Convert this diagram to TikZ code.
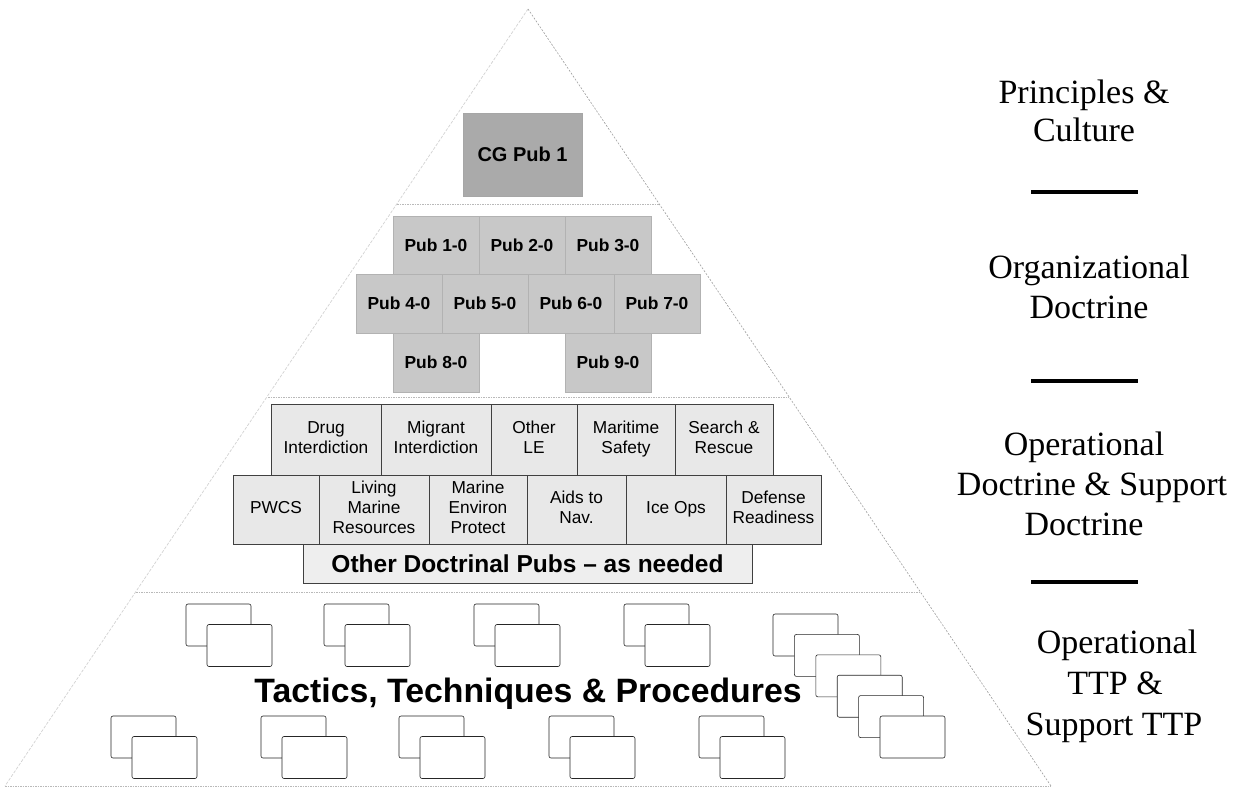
\documentclass[tikz,border=0pt]{standalone}
\usepackage{fontspec}
\setmainfont{Liberation Serif}
\newfontfamily\arialf{Liberation Sans}
\definecolor{cgfill}{RGB}{170,170,170}
\definecolor{pubfill}{RGB}{200,200,200}
\definecolor{opfill}{RGB}{232,232,232}
\definecolor{otherfill}{RGB}{238,238,238}
\newcommand\ttppair[3]{%
  \node[ttpbox] (#1a) at ({#2+32.5},{#3+21}) {};
  \node[ttpbox] (#1b) at ({#2+53.5},{#3+41.5}) {};}
\begin{document}
\begin{tikzpicture}[x=1pt,y=-1pt,
  cgbox/.style={fill=cgfill, draw=gray!70, line width=0.4pt, inner sep=0pt,
    font=\arialf\bfseries\fontsize{20}{24}\selectfont},
  pubbox/.style={fill=pubfill, draw=gray!60, line width=0.5pt, inner sep=0pt,
    minimum width=86pt, minimum height=58.5pt,
    font=\arialf\bfseries\fontsize{17.4}{20}\selectfont},
  opbox/.style={fill=opfill, draw=black!75, line width=0.7pt, inner sep=0pt, align=center,
    text depth=4pt, font=\arialf\fontsize{17.3}{20}\selectfont},
  ttpbox/.style={fill=white, draw=black!85, line width=0.6pt, rounded corners=2pt,
    minimum width=65pt, minimum height=42pt, inner sep=0pt},
  sidelabel/.style={font=\fontsize{34}{40}\selectfont, anchor=base, inner sep=0pt},
  sepline/.style={line width=4.5pt},
  divider/.style={draw=gray!55, line width=0.6pt, dash pattern=on 1.5pt off 1pt},
  edgeL/.style={draw=gray!35, line width=0.7pt, dash pattern=on 3pt off 1.5pt},
  edgeR/.style={draw=gray!75, line width=0.6pt, dash pattern=on 2pt off 1.5pt}]
\useasboundingbox (0,0) rectangle (1237,788);
% pyramid outline
\coordinate (apex) at (528,9);
\coordinate (bl) at (5,786);
\coordinate (br) at (1051,786);
\draw[edgeL] (apex) -- (bl);
\draw[edgeR] (apex) -- (br);
\draw[divider] (bl) -- (br);
% layer dividers
\draw[divider] (397,204) -- (659,204);
\draw[divider] (268,397) -- (789,397);
\draw[divider] (136,592) -- (920,592);
% principles
\node[cgbox, minimum width=119pt, minimum height=83pt] (cg) at (522.5,154.5) {CG Pub 1};
% organizational doctrine
\node[pubbox] (p1) at (436,245) {Pub 1-0};
\node[pubbox] (p2) at (522,245) {Pub 2-0};
\node[pubbox] (p3) at (608,245) {Pub 3-0};
\node[pubbox] (p4) at (399,303.5) {Pub 4-0};
\node[pubbox] (p5) at (485,303.5) {Pub 5-0};
\node[pubbox] (p6) at (571,303.5) {Pub 6-0};
\node[pubbox] (p7) at (657,303.5) {Pub 7-0};
\node[pubbox] (p8) at (436,362.5) {Pub 8-0};
\node[pubbox] (p9) at (608,362.5) {Pub 9-0};
% operational doctrine
\node[opbox, minimum width=110pt, minimum height=71pt] (drug) at (326,439.5) {Drug\\Interdiction};
\node[opbox, minimum width=110pt, minimum height=71pt] (migr) at (436,439.5) {Migrant\\Interdiction};
\node[opbox, minimum width=86pt, minimum height=71pt] (ole) at (534,439.5) {Other\\LE};
\node[opbox, minimum width=98pt, minimum height=71pt] (msaf) at (626,439.5) {Maritime\\Safety};
\node[opbox, minimum width=98pt, minimum height=71pt] (sar) at (724,439.5) {Search \&\\Rescue};
\node[opbox, minimum width=86pt, minimum height=69pt] (pwcs) at (276,509.5) {PWCS};
\node[opbox, minimum width=110pt, minimum height=69pt] (lmr) at (374,509.5) {Living\\Marine\\Resources};
\node[opbox, minimum width=98pt, minimum height=69pt] (mep) at (478,509.5) {Marine\\Environ\\Protect};
\node[opbox, minimum width=99pt, minimum height=69pt] (aton) at (576.5,509.5) {Aids to\\Nav.};
\node[opbox, minimum width=100pt, minimum height=69pt] (ice) at (676,509.5) {Ice Ops};
\node[opbox, minimum width=95pt, minimum height=69pt] (def) at (773.5,509.5) {Defense\\Readiness};
\node[opbox, fill=otherfill, minimum width=449pt, minimum height=39pt, text depth=0pt,
  font=\arialf\bfseries\fontsize{24.5}{28}\selectfont] (other) at (527.5,563.5) {Other Doctrinal Pubs \textendash{} as needed};
% TTP
\ttppair{t1}{186}{604}
\ttppair{t2}{324}{604}
\ttppair{t3}{474}{604}
\ttppair{t4}{624}{604}
\ttppair{b1}{111}{716}
\ttppair{b2}{261}{716}
\ttppair{b3}{399}{716}
\ttppair{b4}{549}{716}
\ttppair{b5}{699}{716}
\foreach \k in {0,...,5}
  \node[ttpbox] (s\k) at ({805.5+21.4*\k},{635+20.4*\k}) {};
\node[anchor=base, inner sep=0pt, font=\arialf\bfseries\fontsize{33.8}{38}\selectfont] (ttp) at (528,702) {Tactics, Techniques \& Procedures};
% side labels
\node[sidelabel] (l1a) at (1084,103) {Principles \&};
\node[sidelabel] (l1b) at (1084,141) {Culture};
\draw[sepline] (1031,192) -- (1138,192);
\node[sidelabel] (l2a) at (1089,278) {Organizational};
\node[sidelabel] (l2b) at (1089,318) {Doctrine};
\draw[sepline] (1031,381) -- (1138,381);
\node[sidelabel] (l3a) at (1084,455) {Operational};
\node[sidelabel] (l3b) at (1092,495) {Doctrine \& Support};
\node[sidelabel] (l3c) at (1084,535) {Doctrine};
\draw[sepline] (1031,582) -- (1138,582);
\node[sidelabel] (l4a) at (1117,653) {Operational};
\node[sidelabel] (l4b) at (1115,694) {TTP \&};
\node[sidelabel] (l4c) at (1114,735) {Support TTP};
\end{tikzpicture}
\end{document}
